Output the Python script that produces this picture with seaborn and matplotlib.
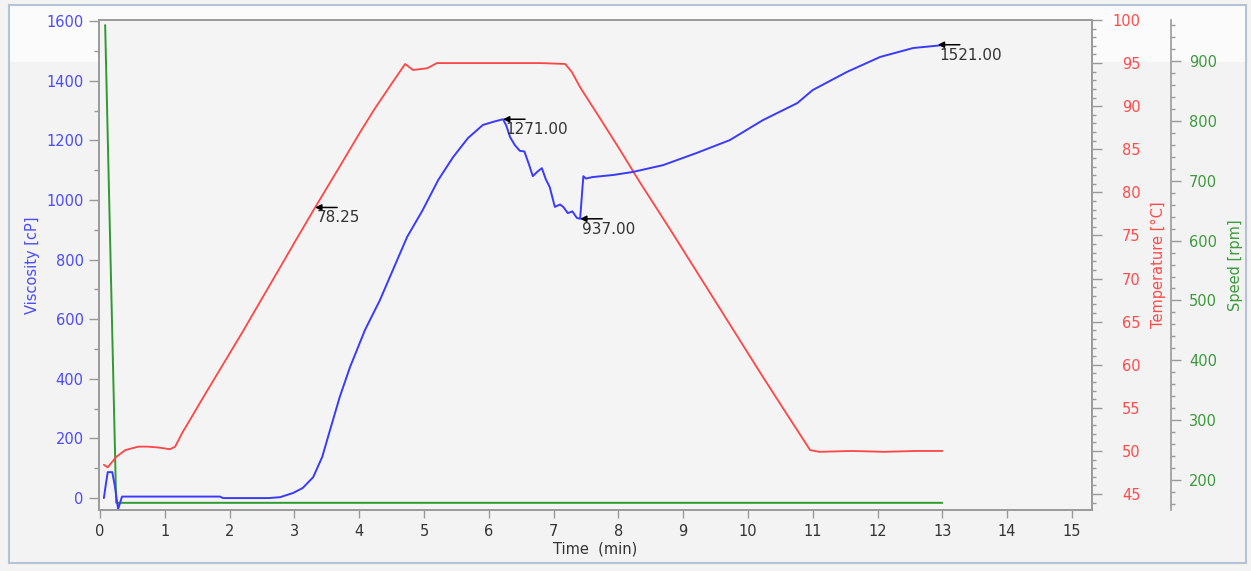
import matplotlib
matplotlib.use("Agg")
import matplotlib.pyplot as plt
from matplotlib.patches import Rectangle
from matplotlib.ticker import MultipleLocator
import seaborn as sns

# ---------------- data ----------------
time_visc = [0.06, 0.10, 0.12, 0.19, 0.23, 0.28, 0.34, 0.6, 1.0, 1.5, 1.85, 1.9, 2.3, 2.6, 2.78,
             2.98, 3.13, 3.29, 3.43, 3.55, 3.70, 3.86, 4.09, 4.32, 4.52, 4.74, 4.98, 5.22, 5.45,
             5.68, 5.91, 6.08, 6.22, 6.27, 6.33, 6.40, 6.48, 6.55, 6.62, 6.68, 6.75, 6.82, 6.88,
             6.94, 7.02, 7.10, 7.15, 7.22, 7.29, 7.36, 7.41, 7.46, 7.50, 7.60, 7.92, 8.22, 8.69,
             9.21, 9.72, 10.23, 10.76, 11.00, 11.53, 12.04, 12.55, 12.93, 13.00]
viscosity = [0, 60, 87, 87, 40, -37, 5, 5, 5, 5, 5, 0, 0, 0, 3,
             17, 34, 70, 138, 228, 339, 440, 564, 664, 765, 876, 966, 1067, 1144,
             1208, 1252, 1263, 1271, 1250, 1211, 1185, 1165, 1163, 1120, 1080, 1095, 1107, 1070,
             1044, 977, 985, 977, 956, 962, 940, 937, 1080, 1072, 1077, 1084, 1094, 1117,
             1158, 1201, 1268, 1325, 1369, 1430, 1480, 1510, 1518, 1521]

time_temp = [0.06, 0.12, 0.25, 0.39, 0.59, 0.74, 0.90, 1.08, 1.16, 1.27, 1.42, 1.6, 1.8, 2.0,
             2.2, 2.47, 2.78, 3.05, 3.32, 3.70, 4.0, 4.24, 4.5, 4.71, 4.83, 5.05, 5.2, 6.0,
             6.8, 7.18, 7.28, 7.41, 7.7, 8.02, 8.33, 8.8, 9.31, 9.77, 10.23, 10.65, 10.96, 11.1,
             11.6, 12.1, 12.6, 13.0]
temperature = [48.4, 48.1, 49.3, 50.1, 50.5, 50.5, 50.4, 50.2, 50.5, 52.1, 54.0, 56.3, 58.8, 61.3,
               63.8, 67.3, 71.3, 74.8, 78.25, 83.0, 86.8, 89.7, 92.6, 94.9, 94.2, 94.4, 95.0, 95.0,
               95.0, 94.9, 94.0, 92.2, 88.8, 85.0, 81.2, 75.7, 69.6, 64.1, 58.6, 53.7, 50.1, 49.9,
               50.0, 49.9, 50.0, 50.0]

time_speed = [0.08, 0.25, 13.0]
speed = [960, 162, 162]

# annotations: (time, value, which axis)
ann_times = [3.32, 6.22, 7.41, 12.93]
ann_values = [78.25, 1271.00, 937.00, 1521.00]
ann_axes = ["temp", "visc", "visc", "visc"]

x_ticks = list(range(0, 16))

# ---------------- style ----------------
sns.set_theme(style="ticks")
plt.rcParams["font.family"] = ["DejaVu Sans"]
plt.rcParams["axes.linewidth"] = 1.2

W, H = 1251, 571
fig = plt.figure(figsize=(W / 100, H / 100), dpi=100)
fig.patch.set_facecolor("#f3f3f3")
# lighter band at top of the frame and outer border
fig.patches.append(Rectangle((9 / W, (H - 62) / H), (1246 - 9) / W, (62 - 5) / H,
                             transform=fig.transFigure, facecolor="#fbfbfb",
                             edgecolor="none", zorder=-2))
fig.patches.append(Rectangle((9 / W, (H - 563) / H), (1246 - 9) / W, (563 - 5) / H,
                             transform=fig.transFigure, facecolor="none",
                             edgecolor="#b4c4d6", linewidth=1.5, zorder=-1))

L, R, T, B = 99, 1092, 20, 510
ax = fig.add_axes([L / W, (H - B) / H, (R - L) / W, (B - T) / H])
ax2 = ax.twinx()
ax3 = ax.twinx()

blue = "#3a3aff"
red = "#ff4545"
green = "#2f9a2f"
blue_t = "#4b4bff"
red_t = "#ff4b4b"
green_t = "#3c9a3c"
spine_c = "#9a9a9a"

sns.lineplot(x=time_speed, y=speed, ax=ax3, color=green, linewidth=1.4, sort=False)
sns.lineplot(x=time_temp, y=temperature, ax=ax2, color=red, linewidth=1.3, sort=False)
sns.lineplot(x=time_visc, y=viscosity, ax=ax, color=blue, linewidth=1.4, sort=False)

# drawing order: speed (with opaque plot background) < temperature < viscosity
ax3.set_zorder(0)
ax3.patch.set_visible(True)
ax3.patch.set_facecolor("#f4f4f4")
ax2.set_zorder(1)
ax2.patch.set_visible(False)
ax.set_zorder(2)
ax.patch.set_visible(False)

# limits
ax.set_xlim(-0.015, 15.31)
ax.set_ylim(-40, 1604)
ax2.set_ylim(43.15, 100)
ax3.set_ylim(150, 968.5)

# ticks
ax.set_xticks(x_ticks)
ax.yaxis.set_major_locator(MultipleLocator(200))
ax.yaxis.set_minor_locator(MultipleLocator(100))
ax2.yaxis.set_major_locator(MultipleLocator(5))
ax2.yaxis.set_minor_locator(MultipleLocator(1))
ax3.yaxis.set_major_locator(MultipleLocator(100))
ax3.yaxis.set_minor_locator(MultipleLocator(20))

fs = 10.5
ax.tick_params(axis="x", direction="out", length=6, width=1, color=spine_c,
               labelsize=fs, labelcolor="#333333", pad=4)
ax.tick_params(axis="y", which="major", direction="out", length=7, width=1, color=spine_c,
               labelsize=fs, labelcolor=blue_t, pad=4)
ax.tick_params(axis="y", which="minor", direction="out", length=3.5, width=1, color=spine_c)
ax2.tick_params(axis="y", which="major", direction="out", length=7, width=1, color=spine_c,
                labelsize=fs, labelcolor=red_t, pad=28)
ax2.tick_params(axis="y", which="minor", direction="out", length=3, width=1, color=spine_c)
for lab in ax2.get_yticklabels():
    lab.set_horizontalalignment("right")
ax3.tick_params(axis="y", which="major", direction="out", length=7, width=1, color=spine_c,
                labelsize=fs, labelcolor=green_t, pad=6)
ax3.tick_params(axis="y", which="minor", direction="out", length=3, width=1, color=spine_c)

for a in (ax, ax2, ax3):
    for s in a.spines.values():
        s.set_color(spine_c)
        s.set_linewidth(1.2)
# spine offset is given in points: 79 px at 100 dpi
ax3.spines["right"].set_position(("outward", 79 * 72 / 100))
for s in ("left", "top", "bottom"):
    ax3.spines[s].set_visible(False)

# labels
ax.set_xlabel("Time  (min)", fontsize=fs, color="#333333", labelpad=2)
ax.set_ylabel("Viscosity [cP]", fontsize=fs, color=blue_t)
ax2.set_ylabel("Temperature [°C]", fontsize=fs, color=red_t)
ax3.set_ylabel("Speed [rpm]", fontsize=fs, color=green_t)
for a, xpix in ((ax, 32), (ax2, 1158), (ax3, 1236)):
    a.yaxis.label.set_verticalalignment("center")
    a.yaxis.set_label_coords((xpix - L) / (R - L), 0.5)

# annotations
for t, v, which in zip(ann_times, ann_values, ann_axes):
    tgt = ax2 if which == "temp" else ax
    tgt.annotate("", xy=(t, v), xytext=(22, 0), textcoords="offset pixels",
                 arrowprops=dict(arrowstyle="-|>", color="black", lw=1.1,
                                 mutation_scale=9, shrinkA=0, shrinkB=0),
                 zorder=10)
    tgt.annotate(f"{v:.2f}", xy=(t, v), xytext=(2, -3), textcoords="offset pixels",
                 ha="left", va="top", fontsize=11, color="#333333", zorder=10)

fig.savefig("out.png", dpi=100, facecolor=fig.get_facecolor())
